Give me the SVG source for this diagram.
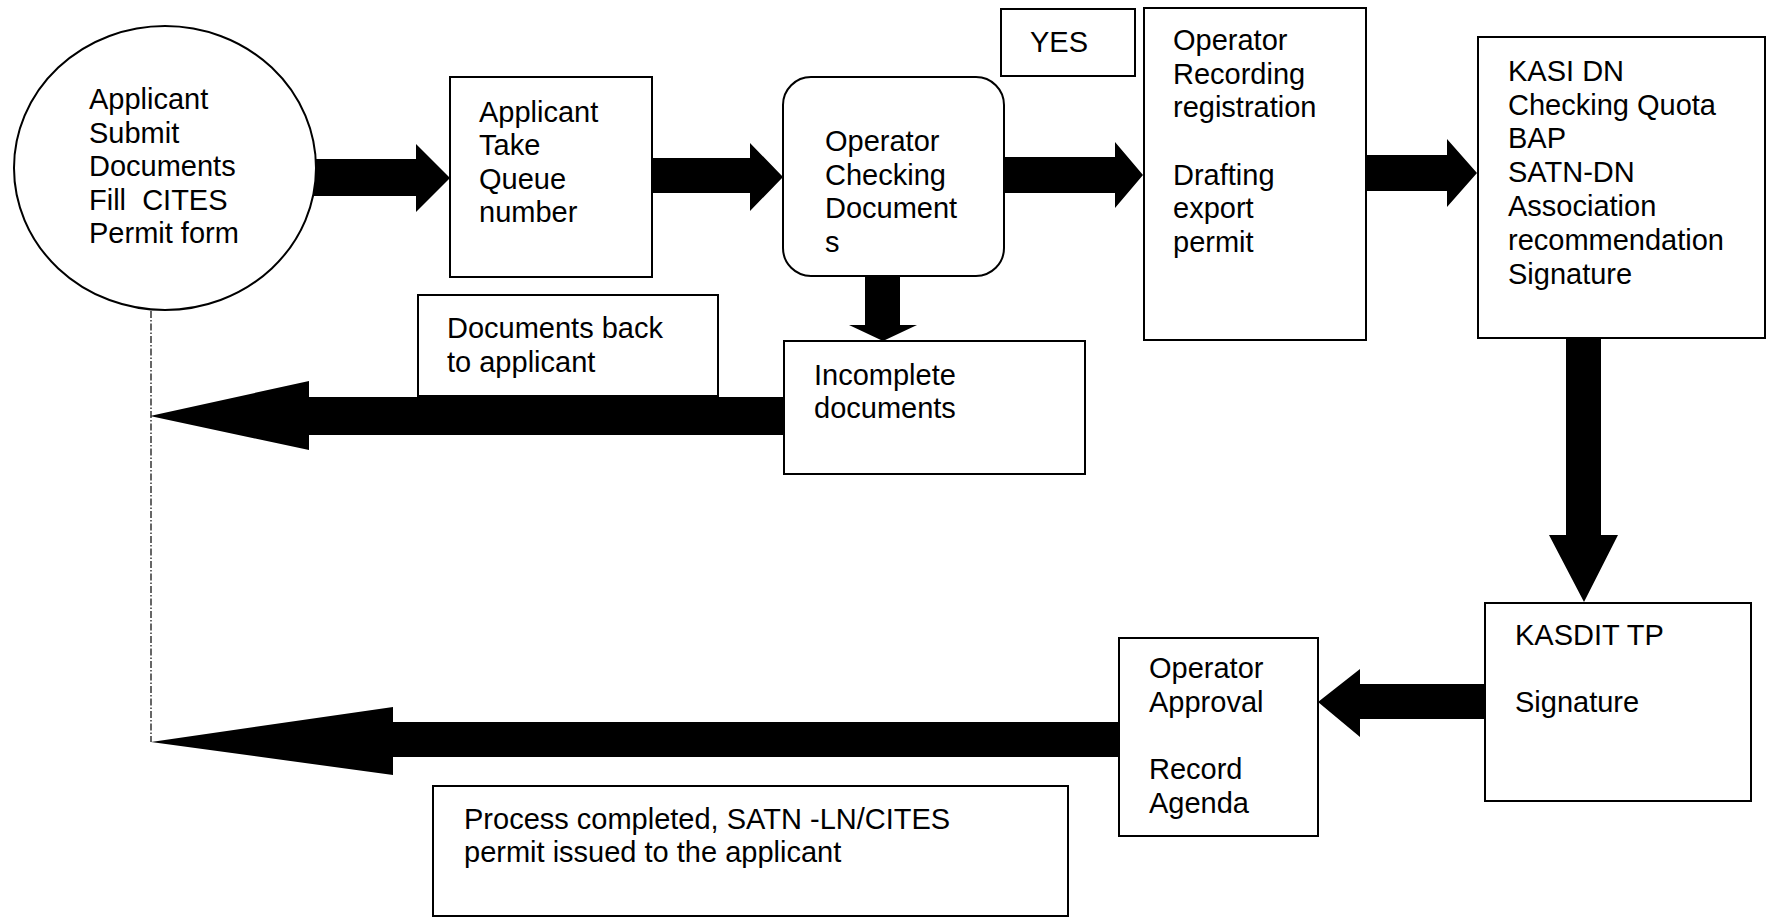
<svg xmlns="http://www.w3.org/2000/svg" width="1767" height="919" viewBox="0 0 1767 919">
<style>
.box{fill:#fff;stroke:#000;stroke-width:2}
.t{font-family:"Liberation Sans",Arial,sans-serif;font-size:29px;fill:#000}
.arr{fill:#000;stroke:none}
.dash{fill:none;stroke:#000;stroke-width:1.2;stroke-dasharray:7 2 1.5 2}
</style>
<rect width="1767" height="919" fill="#fff"/>
<g id="connectors">
<line class="dash" x1="151" y1="311" x2="151" y2="742"/>
<polygon class="arr" points="313,159 416,159 416,144 450,178 416,212 416,196 313,196"/>
<polygon class="arr" points="652,158 750,158 750,143 783,177 750,211 750,193 652,193"/>
<polygon class="arr" points="1004,157 1115,157 1115,142 1143,175 1115,208 1115,193 1004,193"/>
<polygon class="arr" points="1367,155 1447,155 1447,139 1477,173 1447,207 1447,191 1367,191"/>
<polygon class="arr" points="1566,338 1601,338 1601,535 1618,535 1584,602 1549,535 1566,535"/>
<polygon class="arr" points="1485,684 1360,684 1360,669 1318,702 1360,737 1360,719 1485,719"/>
<polygon class="arr" points="1119,722 393,722 393,707 151,742 393,775 393,757 1119,757"/>
<polygon class="arr" points="784,397 309,397 309,381 150,416 309,450 309,435 784,435"/>
<polygon class="arr" points="865,276 900,276 900,325 917,325 883,341 849,325 865,325"/>
</g>
<g id="applicant-submit">
<ellipse class="box" cx="165" cy="168" rx="151" ry="142"/>
<text class="t" x="89" y="109">Applicant</text>
<text class="t" x="89" y="143">Submit</text>
<text class="t" x="89" y="176">Documents</text>
<text class="t" x="89" y="210">Fill&#160; CITES</text>
<text class="t" x="89" y="243">Permit form</text>
</g>
<g id="queue">
<rect class="box" x="450" y="77" width="202" height="200"/>
<text class="t" x="479" y="122">Applicant</text>
<text class="t" x="479" y="155">Take</text>
<text class="t" x="479" y="189">Queue</text>
<text class="t" x="479" y="222">number</text>
</g>
<g id="checking">
<rect class="box" x="783" y="77" width="221" height="199" rx="28" ry="28"/>
<text class="t" x="825" y="151">Operator</text>
<text class="t" x="825" y="185">Checking</text>
<text class="t" x="825" y="218">Document</text>
<text class="t" x="825" y="252">s</text>
</g>
<g id="yes">
<rect class="box" x="1001" y="9" width="134" height="67"/>
<text class="t" x="1030" y="52">YES</text>
</g>
<g id="recording">
<rect class="box" x="1144" y="8" width="222" height="332"/>
<text class="t" x="1173" y="50">Operator</text>
<text class="t" x="1173" y="84">Recording</text>
<text class="t" x="1173" y="117">registration</text>
<text class="t" x="1173" y="185">Drafting</text>
<text class="t" x="1173" y="218">export</text>
<text class="t" x="1173" y="252">permit</text>
</g>
<g id="kasi">
<rect class="box" x="1478" y="37" width="287" height="301"/>
<text class="t" x="1508" y="81">KASI DN</text>
<text class="t" x="1508" y="115">Checking Quota</text>
<text class="t" x="1508" y="148">BAP</text>
<text class="t" x="1508" y="182">SATN-DN</text>
<text class="t" x="1508" y="216">Association</text>
<text class="t" x="1508" y="250">recommendation</text>
<text class="t" x="1508" y="284">Signature</text>
</g>
<g id="kasdit">
<rect class="box" x="1485" y="603" width="266" height="198"/>
<text class="t" x="1515" y="645">KASDIT TP</text>
<text class="t" x="1515" y="712">Signature</text>
</g>
<g id="approval">
<rect class="box" x="1119" y="638" width="199" height="198"/>
<text class="t" x="1149" y="678">Operator</text>
<text class="t" x="1149" y="712">Approval</text>
<text class="t" x="1149" y="779">Record</text>
<text class="t" x="1149" y="813">Agenda</text>
</g>
<g id="incomplete">
<rect class="box" x="784" y="341" width="301" height="133"/>
<text class="t" x="814" y="385">Incomplete</text>
<text class="t" x="814" y="418">documents</text>
</g>
<g id="back">
<rect class="box" x="418" y="295" width="300" height="101"/>
<text class="t" x="447" y="338">Documents back</text>
<text class="t" x="447" y="372">to applicant</text>
</g>
<g id="completed">
<rect class="box" x="433" y="786" width="635" height="130"/>
<text class="t" x="464" y="829">Process completed, SATN -LN/CITES</text>
<text class="t" x="464" y="862">permit issued to the applicant</text>
</g>
</svg>
